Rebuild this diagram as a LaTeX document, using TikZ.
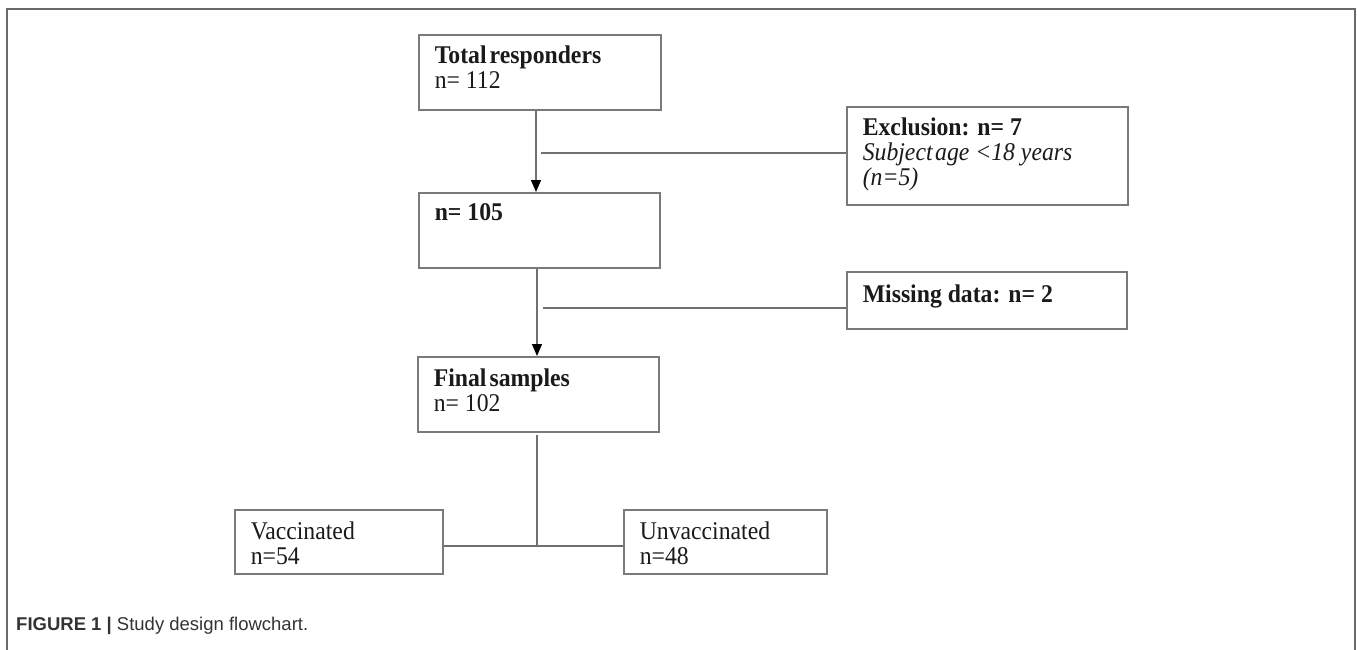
\documentclass[tikz,border=0pt]{standalone}
\usepackage{fontspec}
\setmainfont{Liberation Serif}[FakeStretch=0.93]
\setsansfont{Liberation Sans}
\usetikzlibrary{arrows.meta}
\definecolor{boxgray}{HTML}{7A7A7A}
\definecolor{linegray}{HTML}{707070}
\definecolor{framegray}{HTML}{6A6A6A}
\definecolor{txt}{HTML}{1A1A1A}
\definecolor{captxt}{HTML}{333333}
\newcommand{\cellbox}[3]{\parbox[t][#2][t]{#1}{\fontsize{25.5}{25}\selectfont #3}}
\tikzset{
  fbox/.style={draw=boxgray, line width=1.6pt, anchor=north west, inner xsep=16pt, inner ysep=11pt, text=txt, fill=white},
  conn/.style={draw=linegray, line width=1.3pt},
  arr/.style={conn, -{Triangle[width=10pt,length=12pt,black]}},
}
\begin{document}
\begin{tikzpicture}[x=1pt,y=-1pt]
\useasboundingbox (0,0) rectangle (1357,650);
% outer frame
\draw[framegray, line width=1.8pt] (7,650) -- (7,9) -- (1355,9) -- (1355,650);
% boxes
\node[fbox] (b1) at (418,34) {\cellbox{210pt}{53pt}{\textbf{Total\hspace{0.12em}responders}\\n= 112}};
\node[fbox] (b2) at (418,192) {\cellbox{209pt}{53pt}{\textbf{n= 105}}};
\node[fbox] (b3) at (417,356) {\cellbox{209pt}{53pt}{\vspace*{1pt}\textbf{Final\hspace{0.12em}samples}\\n= 102}};
\node[fbox] (excl) at (846,106) {\cellbox{249pt}{76pt}{\textbf{Exclusion: n= 7}\\\textit{Subject\hspace{0.1em}age <18 years}\\\textit{(n=5)}}};
\node[fbox] (miss) at (846,271) {\cellbox{248pt}{35pt}{\vspace*{2pt}\textbf{Missing data: n= 2}}};
\node[fbox] (vac) at (234,509) {\cellbox{176pt}{42pt}{\vspace*{1pt}Vaccinated\\n=54}};
\node[fbox] (unvac) at (623,509) {\cellbox{171pt}{42pt}{\vspace*{1pt}Unvaccinated\\n=48}};
% junction coordinates
\coordinate (j1) at (541,153);
\coordinate (j2) at (543,308);
\coordinate (j3) at (537,546);
\coordinate (s3) at (537,435);
% connectors
\draw[arr] (b1.south -| 536,0) -- (b2.north -| 536,0);
\draw[arr] (b2.south -| 537,0) -- (b3.north -| 537,0);
\draw[conn] (j1) -- (j1 -| excl.west);
\draw[conn] (j2) -- (j2 -| miss.west);
\draw[conn] (s3) -- (j3);
\draw[conn] (j3 -| vac.east) -- (j3 -| unvac.west);
% caption
\node[anchor=base west, inner sep=0pt, text=captxt, font=\sffamily\fontsize{18.5}{20}\selectfont] (cap) at (16,630) {\textbf{FIGURE 1 |} Study design flowchart.};
\end{tikzpicture}
\end{document}
